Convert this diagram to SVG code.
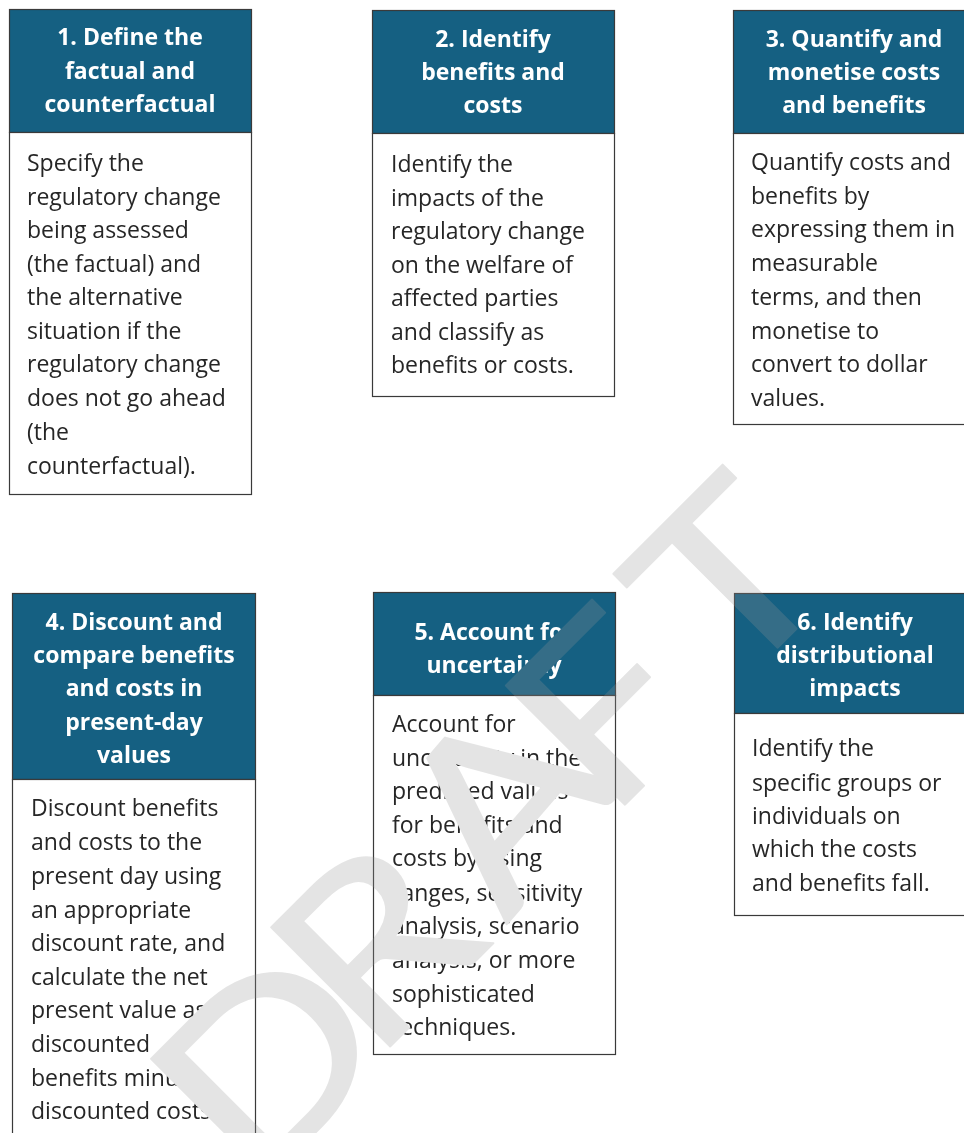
<svg xmlns="http://www.w3.org/2000/svg" xmlns:xlink="http://www.w3.org/1999/xlink" width="964" height="1133" viewBox="0 0 964 1133">
  <style>
    .hd { fill: #156082; stroke: #3a3a3a; stroke-width: 1.2; }
    .bd { fill: #ffffff; stroke: #3a3a3a; stroke-width: 1.2; }
    .ht { font-family: "Open Sans", "Noto Sans", sans-serif; font-weight: 700; font-size: 23px; fill: #ffffff; text-anchor: middle; }
    .bt { font-family: "Open Sans", "Noto Sans", sans-serif; font-weight: 400; font-size: 23px; fill: #262626; }
    .txt { mask: url(#knock); }
    .wm { font-family: Lato, "Liberation Sans", sans-serif; font-size: 235px; font-weight: 400; stroke-linejoin: round; }
  </style>
  <defs>
    <!-- diagonal DRAFT stamp, shared by the knock-out mask and the grey overlay -->
    <text id="wm-word" class="wm" transform="translate(724,724) rotate(-45) scale(1.17,1)"><tspan x="-570" y="0">D</tspan><tspan x="-418" y="-8">R</tspan><tspan x="-253" y="-12" rotate="-5">A</tspan><tspan x="-130" y="-13">F</tspan><tspan x="20.5" y="-16">T</tspan></text>
    <mask id="knock" maskUnits="userSpaceOnUse" x="0" y="0" width="964" height="1133">
      <rect x="0" y="0" width="964" height="1133" fill="#ffffff"/>
      <use xlink:href="#wm-word" fill="#000000" stroke="#000000" stroke-width="2"/>
    </mask>
  </defs>

  <rect x="0" y="0" width="964" height="1133" fill="#ffffff"/>

  <g id="connectors"></g>

  <g id="step1">
    <rect class="hd" x="9.5" y="9.5" width="242" height="123"/>
    <rect class="bd" x="9.5" y="132.5" width="242" height="362"/>
    <g class="txt">
      <text class="ht" x="130" y="45">1. Define the</text>
      <text class="ht" x="130" y="79">factual and</text>
      <text class="ht" x="130" y="112">counterfactual</text>
      <text class="bt" x="27" y="171">Specify the</text>
      <text class="bt" x="27" y="205">regulatory change</text>
      <text class="bt" x="27" y="238">being assessed</text>
      <text class="bt" x="27" y="272">(the factual) and</text>
      <text class="bt" x="27" y="305">the alternative</text>
      <text class="bt" x="27" y="339">situation if the</text>
      <text class="bt" x="27" y="372">regulatory change</text>
      <text class="bt" x="27" y="406">does not go ahead</text>
      <text class="bt" x="27" y="440">(the</text>
      <text class="bt" x="27" y="474">counterfactual).</text>
    </g>
  </g>

  <g id="step2">
    <rect class="hd" x="372.5" y="10.5" width="242" height="123"/>
    <rect class="bd" x="372.5" y="133.5" width="242" height="263"/>
    <g class="txt">
      <text class="ht" x="493" y="47">2. Identify</text>
      <text class="ht" x="493" y="80">benefits and</text>
      <text class="ht" x="493" y="113">costs</text>
      <text class="bt" x="391" y="172">Identify the</text>
      <text class="bt" x="391" y="206">impacts of the</text>
      <text class="bt" x="391" y="239">regulatory change</text>
      <text class="bt" x="391" y="273">on the welfare of</text>
      <text class="bt" x="391" y="306">affected parties</text>
      <text class="bt" x="391" y="340">and classify as</text>
      <text class="bt" x="391" y="373">benefits or costs.</text>
    </g>
  </g>

  <g id="step3">
    <rect class="hd" x="733.5" y="10.5" width="242" height="123"/>
    <rect class="bd" x="733.5" y="133.5" width="242" height="291"/>
    <g class="txt">
      <text class="ht" x="854" y="47">3. Quantify and</text>
      <text class="ht" x="854" y="80">monetise costs</text>
      <text class="ht" x="854" y="113">and benefits</text>
      <text class="bt" x="751" y="170">Quantify costs and</text>
      <text class="bt" x="751" y="204">benefits by</text>
      <text class="bt" x="751" y="237">expressing them in</text>
      <text class="bt" x="751" y="271">measurable</text>
      <text class="bt" x="751" y="305">terms, and then</text>
      <text class="bt" x="751" y="339">monetise to</text>
      <text class="bt" x="751" y="372">convert to dollar</text>
      <text class="bt" x="751" y="406">values.</text>
    </g>
  </g>

  <g id="step4">
    <rect class="hd" x="12.5" y="593.5" width="243" height="186"/>
    <rect class="bd" x="12.5" y="779.5" width="243" height="380"/>
    <g class="txt">
      <text class="ht" x="134" y="630">4. Discount and</text>
      <text class="ht" x="134" y="663">compare benefits</text>
      <text class="ht" x="134" y="696">and costs in</text>
      <text class="ht" x="134" y="730">present-day</text>
      <text class="ht" x="134" y="763">values</text>
      <text class="bt" x="31" y="816">Discount benefits</text>
      <text class="bt" x="31" y="850">and costs to the</text>
      <text class="bt" x="31" y="884">present day using</text>
      <text class="bt" x="31" y="918">an appropriate</text>
      <text class="bt" x="31" y="951">discount rate, and</text>
      <text class="bt" x="31" y="985">calculate the net</text>
      <text class="bt" x="31" y="1018">present value as</text>
      <text class="bt" x="31" y="1052">discounted</text>
      <text class="bt" x="31" y="1086">benefits minus</text>
      <text class="bt" x="31" y="1119">discounted costs.</text>
    </g>
  </g>

  <g id="step5">
    <rect class="hd" x="373.5" y="592.5" width="242" height="103"/>
    <rect class="bd" x="373.5" y="695.5" width="242" height="359"/>
    <g class="txt">
      <text class="ht" x="494" y="640">5. Account for</text>
      <text class="ht" x="494" y="673">uncertainty</text>
      <text class="bt" x="392" y="732">Account for</text>
      <text class="bt" x="392" y="766">uncertainty in the</text>
      <text class="bt" x="392" y="799">predicted values</text>
      <text class="bt" x="392" y="833">for benefits and</text>
      <text class="bt" x="392" y="866">costs by using</text>
      <text class="bt" x="392" y="901">ranges, sensitivity</text>
      <text class="bt" x="392" y="934">analysis, scenario</text>
      <text class="bt" x="392" y="968">analysis, or more</text>
      <text class="bt" x="392" y="1002">sophisticated</text>
      <text class="bt" x="392" y="1035">techniques.</text>
    </g>
  </g>

  <g id="step6">
    <rect class="hd" x="734.5" y="593.5" width="242" height="120"/>
    <rect class="bd" x="734.5" y="713.5" width="242" height="202"/>
    <g class="txt">
      <text class="ht" x="855" y="630">6. Identify</text>
      <text class="ht" x="855" y="663">distributional</text>
      <text class="ht" x="855" y="696">impacts</text>
      <text class="bt" x="752" y="756">Identify the</text>
      <text class="bt" x="752" y="791">specific groups or</text>
      <text class="bt" x="752" y="824">individuals on</text>
      <text class="bt" x="752" y="857">which the costs</text>
      <text class="bt" x="752" y="891">and benefits fall.</text>
    </g>
  </g>

  <g id="watermark" opacity="0.25">
    <use xlink:href="#wm-word" fill="#969696" stroke="#969696" stroke-width="2"/>
  </g>
</svg>
